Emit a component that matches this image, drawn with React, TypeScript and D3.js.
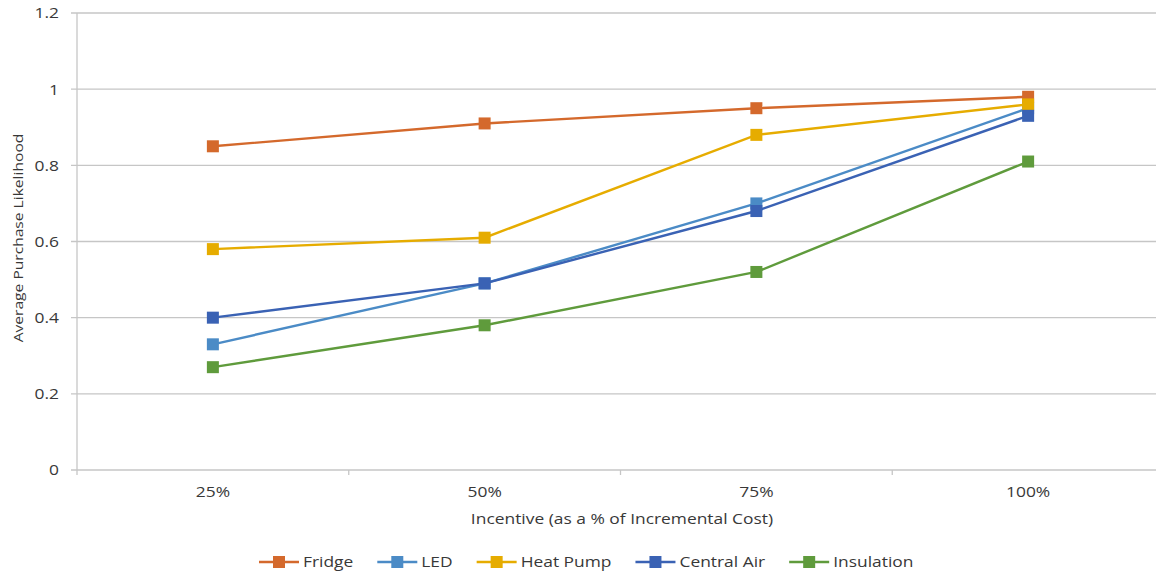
import { useEffect, useRef } from 'react';
import * as d3 from 'd3';

const categories = ['25%', '50%', '75%', '100%'];
const seriesNames = ['Fridge', 'LED', 'Heat Pump', 'Central Air', 'Insulation'];
const fridge = [0.85, 0.91, 0.95, 0.98];
const led = [0.33, 0.49, 0.70, 0.95];
const heatPump = [0.58, 0.61, 0.88, 0.96];
const centralAir = [0.40, 0.49, 0.68, 0.93];
const insulation = [0.27, 0.38, 0.52, 0.81];
const yTicks = [0, 0.2, 0.4, 0.6, 0.8, 1, 1.2];
const colors = ['#D4692C', '#4B8BC6', '#E6AC00', '#3A62B4', '#5F9B3C'];

const FONT = '"Open Sans", sans-serif';
const SX = 1.2;

export default function App() {
  const ref = useRef<SVGSVGElement | null>(null);

  useEffect(() => {
    if (!ref.current) return;
    const svg = d3.select(ref.current);
    svg.selectAll('*').remove();

    const width = 1156;
    const height = 573;
    const left = 77;
    const right = 1164;
    const top = 13;
    const bottom = 470;

    const series = [fridge, led, heatPump, centralAir, insulation];

    const x = d3.scaleBand<string>().domain(categories).range([left, right]).padding(0);
    const cx = (c: string) => (x(c) as number) + x.bandwidth() / 2;
    const y = d3.scaleLinear().domain([0, 1.2]).range([bottom, top]);

    svg.attr('width', width).attr('height', height);

    // gridlines
    svg.append('g')
      .selectAll('line')
      .data(yTicks)
      .enter()
      .append('line')
      .attr('x1', left - 6)
      .attr('x2', right)
      .attr('y1', d => y(d))
      .attr('y2', d => y(d))
      .attr('stroke', '#c6c6c6')
      .attr('stroke-width', 1.3);

    // left axis line
    svg.append('line')
      .attr('x1', left).attr('x2', left)
      .attr('y1', top).attr('y2', bottom + 5)
      .attr('stroke', '#c6c6c6')
      .attr('stroke-width', 1.3);

    // x tick marks at band edges
    const edges = categories.map(c => x(c) as number).concat([right]);
    svg.append('g')
      .selectAll('line')
      .data(edges.slice(1))
      .enter()
      .append('line')
      .attr('x1', d => d).attr('x2', d => d)
      .attr('y1', bottom).attr('y2', bottom + 5)
      .attr('stroke', '#c6c6c6')
      .attr('stroke-width', 1.3);

    const txt = (g: d3.Selection<any, any, any, any>, s: string, tx: number, ty: number, anchor: string, size = 14.5) =>
      g.append('text')
        .attr('transform', `translate(${tx},${ty}) scale(${SX},1)`)
        .attr('text-anchor', anchor)
        .attr('dominant-baseline', 'central')
        .attr('font-family', FONT)
        .attr('font-size', size)
        .attr('fill', '#383838')
        .text(s);

    // y tick labels
    yTicks.forEach(t => txt(svg, d3.format('~g')(t), 59, y(t), 'end'));

    // x tick labels
    categories.forEach(c => txt(svg, c, cx(c), 492, 'middle'));

    // axis titles
    txt(svg, 'Incentive (as a % of Incremental Cost)', 622, 519, 'middle');
    svg.append('text')
      .attr('transform', `translate(18,238) rotate(-90) scale(${SX},1)`)
      .attr('text-anchor', 'middle')
      .attr('dominant-baseline', 'central')
      .attr('font-family', FONT)
      .attr('font-size', 13)
      .attr('fill', '#383838')
      .text('Average Purchase Likelihood');

    // series
    const line = d3.line<number>()
      .x((_, i) => cx(categories[i]))
      .y(d => y(d));

    series.forEach((vals, si) => {
      const g = svg.append('g');
      g.append('path')
        .attr('d', line(vals) as string)
        .attr('fill', 'none')
        .attr('stroke', colors[si])
        .attr('stroke-width', 2.4);
      g.selectAll('rect')
        .data(vals)
        .enter()
        .append('rect')
        .attr('x', (_, i) => cx(categories[i]) - 6)
        .attr('y', d => y(d) - 6)
        .attr('width', 12)
        .attr('height', 12)
        .attr('fill', colors[si]);
    });

    // legend
    const legendY = 562;
    let lx = 259;
    seriesNames.forEach((name, si) => {
      const g = svg.append('g');
      g.append('line')
        .attr('x1', lx).attr('x2', lx + 40)
        .attr('y1', legendY).attr('y2', legendY)
        .attr('stroke', colors[si])
        .attr('stroke-width', 2.4);
      g.append('rect')
        .attr('x', lx + 20 - 6).attr('y', legendY - 6)
        .attr('width', 12).attr('height', 12)
        .attr('fill', colors[si]);
      const t = txt(g, name, lx + 44, legendY, 'start');
      const w = (t.node() as SVGTextElement).getComputedTextLength() * SX;
      lx += 44 + w + 24;
    });
  }, []);

  return (
    <div style={{ position: 'absolute', left: 0, top: 0 }}>
      <svg ref={ref} style={{ display: 'block' }}></svg>
    </div>
  );
}
